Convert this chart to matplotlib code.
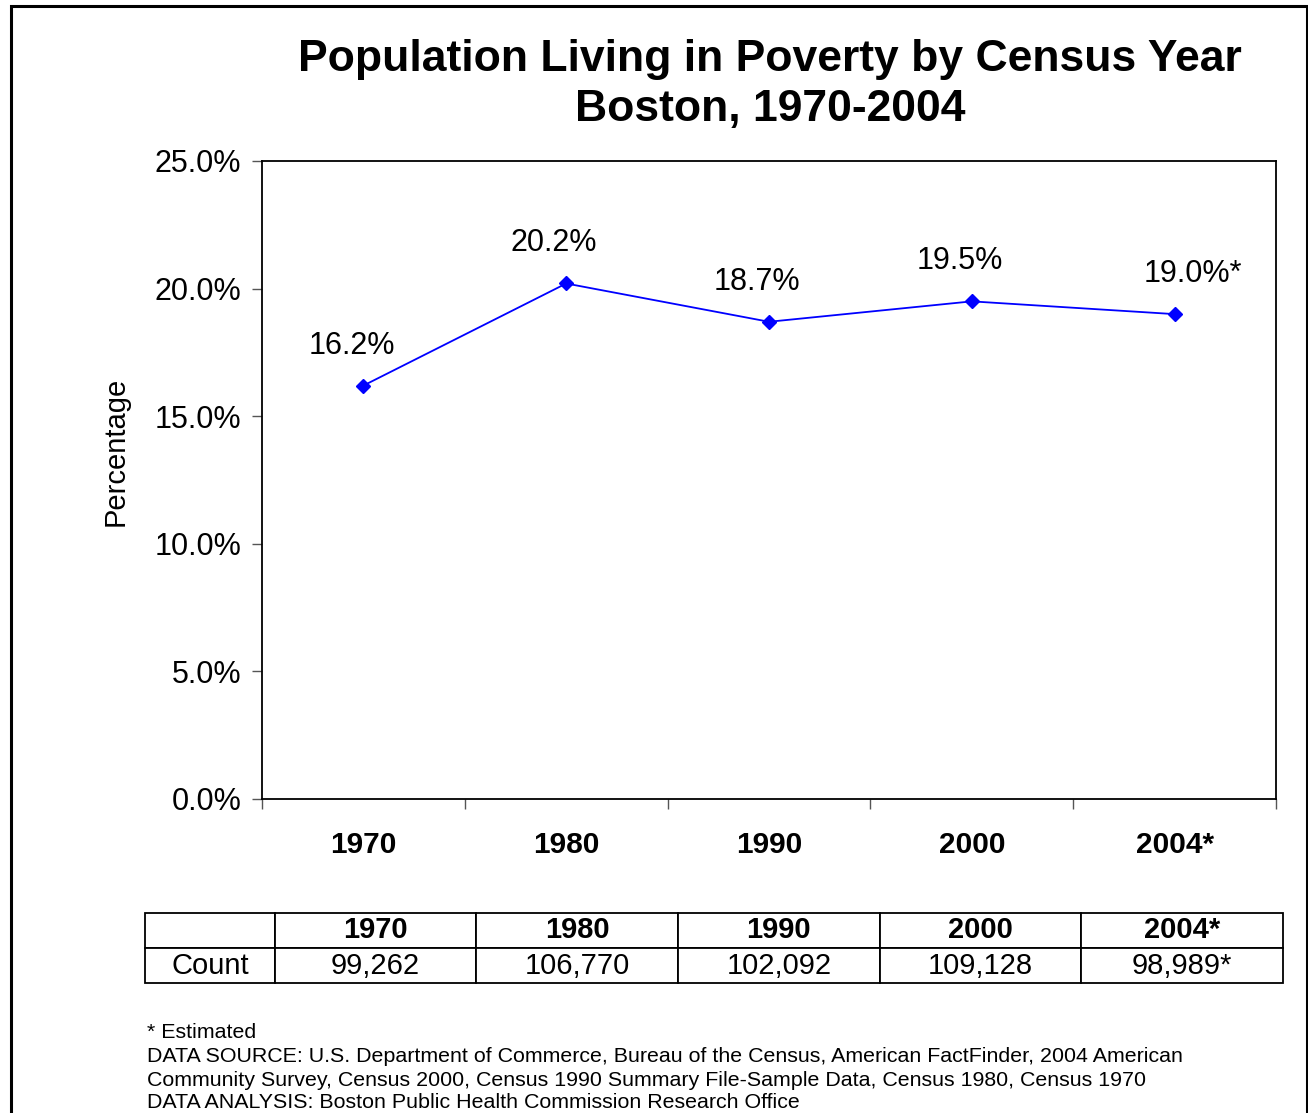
import matplotlib
matplotlib.use('Agg')
import matplotlib.pyplot as plt
from matplotlib.patches import Rectangle
from matplotlib.ticker import FuncFormatter

plt.rcParams['font.family'] = ['Liberation Sans', 'DejaVu Sans']

years = ['1970', '1980', '1990', '2000', '2004*']
pct = [16.2, 20.2, 18.7, 19.5, 19.0]
pct_labels = ['16.2%', '20.2%', '18.7%', '19.5%', '19.0%*']
counts = ['99,262', '106,770', '102,092', '109,128', '98,989*']

W, H = 1308, 1113
fig = plt.figure(figsize=(W / 100, H / 100), dpi=100)

# outer frame (open at the bottom, like the source)
fig.patches.append(Rectangle((11 / W, -0.05), (1296 / W), (1 - 6 / H) + 0.05,
                             transform=fig.transFigure, fill=False,
                             edgecolor='black', linewidth=2.2))

fig.text(770 / W, 1 - 59 / H, 'Population Living in Poverty by Census Year',
         ha='center', va='center', fontsize=32, fontweight='bold')
fig.text(770 / W, 1 - 110 / H, 'Boston, 1970-2004',
         ha='center', va='center', fontsize=32, fontweight='bold')

# chart
ax = fig.add_axes([262 / W, 1 - 799 / H, (1276 - 262) / W, (799 - 161) / H])
x = list(range(len(years)))
ax.plot(x, pct, color='#0000FF', linewidth=1.3, marker='D', markersize=7)
for xi, yi, lab in zip(x, pct, pct_labels):
    dx = 18 if lab.endswith('*') else -12
    ax.annotate(lab, (xi, yi), xytext=(dx, 40), textcoords='offset pixels',
                ha='center', va='center', fontsize=22)

ax.set_xlim(-0.5, len(years) - 0.5)
ax.set_ylim(0, 25)
ax.set_yticks([0, 5, 10, 15, 20, 25])
ax.yaxis.set_major_formatter(FuncFormatter(lambda v, p: f'{v:.1f}%'))
ax.set_xticks(x)
ax.set_xticklabels(years, fontweight='bold')
ax.set_xticks([i - 0.5 for i in range(len(years) + 1)], minor=True)
ax.tick_params(axis='x', which='major', length=0, pad=23, labelsize=21.5)
ax.tick_params(axis='x', which='minor', length=7, width=1.0, direction='out',
               color='#555555')
ax.tick_params(axis='y', length=7, width=1.0, pad=8, labelsize=22,
               color='#555555')
for s in ax.spines.values():
    s.set_linewidth(1.3)
ax.set_ylabel('Percentage', fontsize=21)
ax.yaxis.set_label_coords(-132 / 1014, 0.545)

# count table
tab_ax = fig.add_axes([145 / W, 1 - 983 / H, (1283 - 145) / W, 70 / H])
tab_ax.axis('off')
tab = tab_ax.table(cellText=[[''] + years, ['Count'] + counts],
                   colWidths=[130] + [202] * 5, bbox=[0, 0, 1, 1],
                   cellLoc='center')
tab.auto_set_font_size(False)
for (r, c), cell in tab.get_celld().items():
    cell.set_linewidth(1.3)
    cell.set_text_props(fontsize=21, fontweight='bold' if r == 0 else 'normal')

fig.text(147 / W, 1 - 1033 / H, '* Estimated', fontsize=15.4, va='center')
fig.text(147 / W, 1 - 1057 / H,
         'DATA SOURCE: U.S. Department of Commerce, Bureau of the Census, '
         'American FactFinder, 2004 American', fontsize=15.4, va='center')
fig.text(147 / W, 1 - 1080 / H,
         'Community Survey, Census 2000, Census 1990 Summary File-Sample Data, '
         'Census 1980, Census 1970', fontsize=15.4, va='center')
fig.text(147 / W, 1 - 1103 / H,
         'DATA ANALYSIS: Boston Public Health Commission Research Office',
         fontsize=15.4, va='center')

fig.savefig('out.png', dpi=100)
